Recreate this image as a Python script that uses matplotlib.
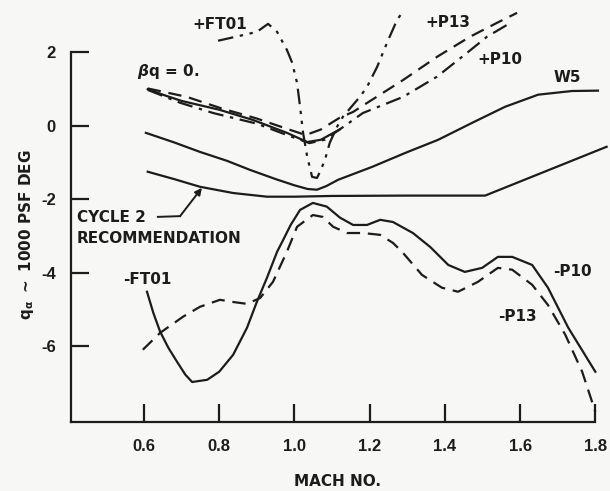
import matplotlib.pyplot as plt

plt.rcParams['font.family'] = ['Liberation Sans', 'DejaVu Sans']
plt.rcParams['font.weight'] = 'bold'
plt.rcParams['mathtext.default'] = 'regular'

# Values (Mach no. vs q-alpha, 1000 psf deg)
w5_mach = [0.605, 0.68, 0.749, 0.82, 0.882, 0.95, 1.0, 1.035, 1.06, 1.085, 1.116,
           1.206, 1.294, 1.382, 1.472, 1.56, 1.648, 1.738, 1.807]
w5_q = [-0.19, -0.45, -0.71, -0.95, -1.2, -1.45, -1.62, -1.72, -1.74, -1.64, -1.47,
        -1.12, -0.74, -0.38, 0.08, 0.52, 0.85, 0.95, 0.96]

cycle2_mach = [0.61, 0.68, 0.749, 0.837, 0.927, 1.0, 1.1, 1.3, 1.507, 1.83]
cycle2_q = [-1.25, -1.45, -1.66, -1.83, -1.93, -1.93, -1.91, -1.9, -1.9, -0.57]

beta0_mach = [0.61, 0.65, 0.7, 0.8, 0.89, 0.98, 1.034, 1.07, 1.12]
beta0_q = [1.0, 0.85, 0.68, 0.44, 0.16, -0.19, -0.44, -0.38, -0.1]

p13_mach = [0.61, 0.714, 0.802, 0.9, 0.98, 1.03, 1.07, 1.12, 1.156, 1.174,
            1.289, 1.379, 1.467, 1.539, 1.592]
p13_q = [1.02, 0.79, 0.49, 0.2, -0.08, -0.25, -0.1, 0.22, 0.38, 0.5,
         1.25, 1.88, 2.43, 2.81, 3.08]

p10_mach = [0.61, 0.696, 0.784, 0.9, 0.98, 1.04, 1.08, 1.12, 1.182, 1.289,
            1.379, 1.459, 1.512, 1.565]
p10_q = [0.98, 0.63, 0.35, 0.06, -0.25, -0.47, -0.38, -0.1, 0.35, 0.79,
         1.34, 1.99, 2.43, 2.75]

ft01_mach = [0.797, 0.84, 0.9, 0.93, 0.954, 0.98, 0.994, 1.007, 1.015, 1.023, 1.034,
             1.047, 1.06, 1.068, 1.081, 1.094, 1.113, 1.129, 1.174, 1.193, 1.22,
             1.246, 1.273, 1.286]
ft01_q = [2.32, 2.42, 2.56, 2.78, 2.56, 2.07, 1.72, 1.17, 0.52, -0.19, -0.84,
          -1.39, -1.42, -1.25, -0.93, -0.46, -0.03, 0.25, 0.79, 1.06, 1.61,
          2.26, 2.89, 3.08]

neg_p10_mach = [0.608, 0.625, 0.643, 0.665, 0.688, 0.71, 0.728, 0.768, 0.8, 0.837,
                0.874, 0.9, 0.927, 0.954, 0.97, 0.99, 1.015, 1.049, 1.086, 1.121,
                1.156, 1.193, 1.228, 1.262, 1.315, 1.361, 1.409, 1.453, 1.499,
                1.541, 1.579, 1.632, 1.674, 1.728, 1.8]
neg_p10_q = [-4.52, -5.1, -5.61, -6.05, -6.43, -6.78, -6.98, -6.92, -6.7, -6.24,
             -5.5, -4.8, -4.14, -3.43, -3.11, -2.7, -2.29, -2.1, -2.2, -2.5,
             -2.7, -2.7, -2.56, -2.62, -2.92, -3.3, -3.79, -3.98, -3.87,
             -3.57, -3.57, -3.79, -4.41, -5.5, -6.7]

neg_p13_mach = [0.597, 0.643, 0.704, 0.749, 0.802, 0.837, 0.874, 0.909, 0.943, 0.98,
                1.007, 1.049, 1.075, 1.103, 1.14, 1.182, 1.228, 1.262, 1.286, 1.339,
                1.392, 1.435, 1.488, 1.541, 1.579, 1.632, 1.674, 1.72, 1.765, 1.8]
neg_p13_q = [-6.1, -5.64, -5.2, -4.93, -4.74, -4.8, -4.85, -4.69, -4.25, -3.43,
             -2.75, -2.43, -2.48, -2.75, -2.92, -2.92, -2.97, -3.19, -3.43, -4.06,
             -4.41, -4.52, -4.25, -3.87, -3.92, -4.33, -4.88, -5.69, -6.7, -7.79]

x_ticks = [0.6, 0.8, 1.0, 1.2, 1.4, 1.6, 1.8]
y_ticks = [2, 0, -2, -4, -6]

ink = '#1c1c1c'
paper = '#f7f7f5'
note_font = ['DejaVu Sans']

fig = plt.figure(figsize=(6.1, 4.91), dpi=100, facecolor=paper)
ax = fig.add_axes([71 / 610, 1 - 422 / 491, 539 / 610, 422 / 491])
ax.set_facecolor(paper)

lw = 1.6
ax.plot(w5_mach, w5_q, color=ink, lw=lw, clip_on=False)
ax.plot(cycle2_mach, cycle2_q, color=ink, lw=lw, clip_on=False)
ax.plot(beta0_mach, beta0_q, color=ink, lw=lw, clip_on=False)
ax.plot(p13_mach, p13_q, color=ink, lw=lw, ls=(0, (6, 3.5)), clip_on=False)
ax.plot(p10_mach, p10_q, color=ink, lw=lw, ls=(0, (7, 3, 1.5, 3)), clip_on=False)
ax.plot(ft01_mach, ft01_q, color=ink, lw=lw, ls=(0, (7, 3, 1.5, 3, 1.5, 3)), clip_on=False)
ax.plot(neg_p10_mach, neg_p10_q, color=ink, lw=lw, clip_on=False)
ax.plot(neg_p13_mach, neg_p13_q, color=ink, lw=lw, ls=(0, (6, 3.5)), clip_on=False)

ax.set_xlim(0.406, 1.839)
ax.set_ylim(-8.07, 3.43)

for s in ['top', 'right']:
    ax.spines[s].set_visible(False)
ax.spines['left'].set_bounds(-8.07, 2)
ax.spines['bottom'].set_bounds(0.406, 1.8)
for s in ['left', 'bottom']:
    ax.spines[s].set_linewidth(1.6)
    ax.spines[s].set_color(ink)

ax.set_xticks(x_ticks)
ax.set_xticklabels([f'{v:.1f}' for v in x_ticks])
ax.set_yticks(y_ticks)
ax.set_yticklabels([str(v) for v in y_ticks])
ax.tick_params(axis='both', direction='in', length=13, width=1.6, color=ink,
               labelsize=12, labelcolor=ink)
ax.tick_params(axis='x', pad=12)
ax.tick_params(axis='y', pad=11)

fs = 11
kw = dict(fontsize=fs, color=ink, va='center', family=note_font)
ax.text(0.581, 1.47, r'$\it{\beta}$q = 0.', **kw)
ax.text(0.73, 2.75, '+FT01', **kw)
ax.text(1.347, 2.83, '+P13', **kw)
ax.text(1.486, 1.8, '+P10', **kw)
ax.text(1.688, 1.31, 'W5', **kw)
ax.text(0.544, -4.2, '-FT01', **kw)
ax.text(1.688, -3.98, '-P10', **kw)
ax.text(1.541, -5.2, '-P13', **kw)
ax.text(0.422, -2.49, 'CYCLE 2', **kw)
ax.text(0.422, -3.07, 'RECOMMENDATION', **kw)

# leader from the CYCLE 2 note to its curve
ax.plot([0.637, 0.696], [-2.48, -2.46], color=ink, lw=1.4)
ax.annotate('', xy=(0.754, -1.69), xytext=(0.696, -2.46),
            arrowprops=dict(arrowstyle='-|>', color=ink, lw=1.4,
                            mutation_scale=10, shrinkA=0, shrinkB=0))

fig.text(27 / 610, 1 - 235 / 491, r'q$_{\alpha}$ $\sim$ 1000 PSF DEG', rotation=90,
         fontsize=11, color=ink, ha='center', va='center', family=note_font)
fig.text(338 / 610, 1 - 481 / 491, 'MACH NO.', fontsize=11, color=ink,
         ha='center', va='center', family=note_font)

fig.savefig('out.png', dpi=100, facecolor=paper)
